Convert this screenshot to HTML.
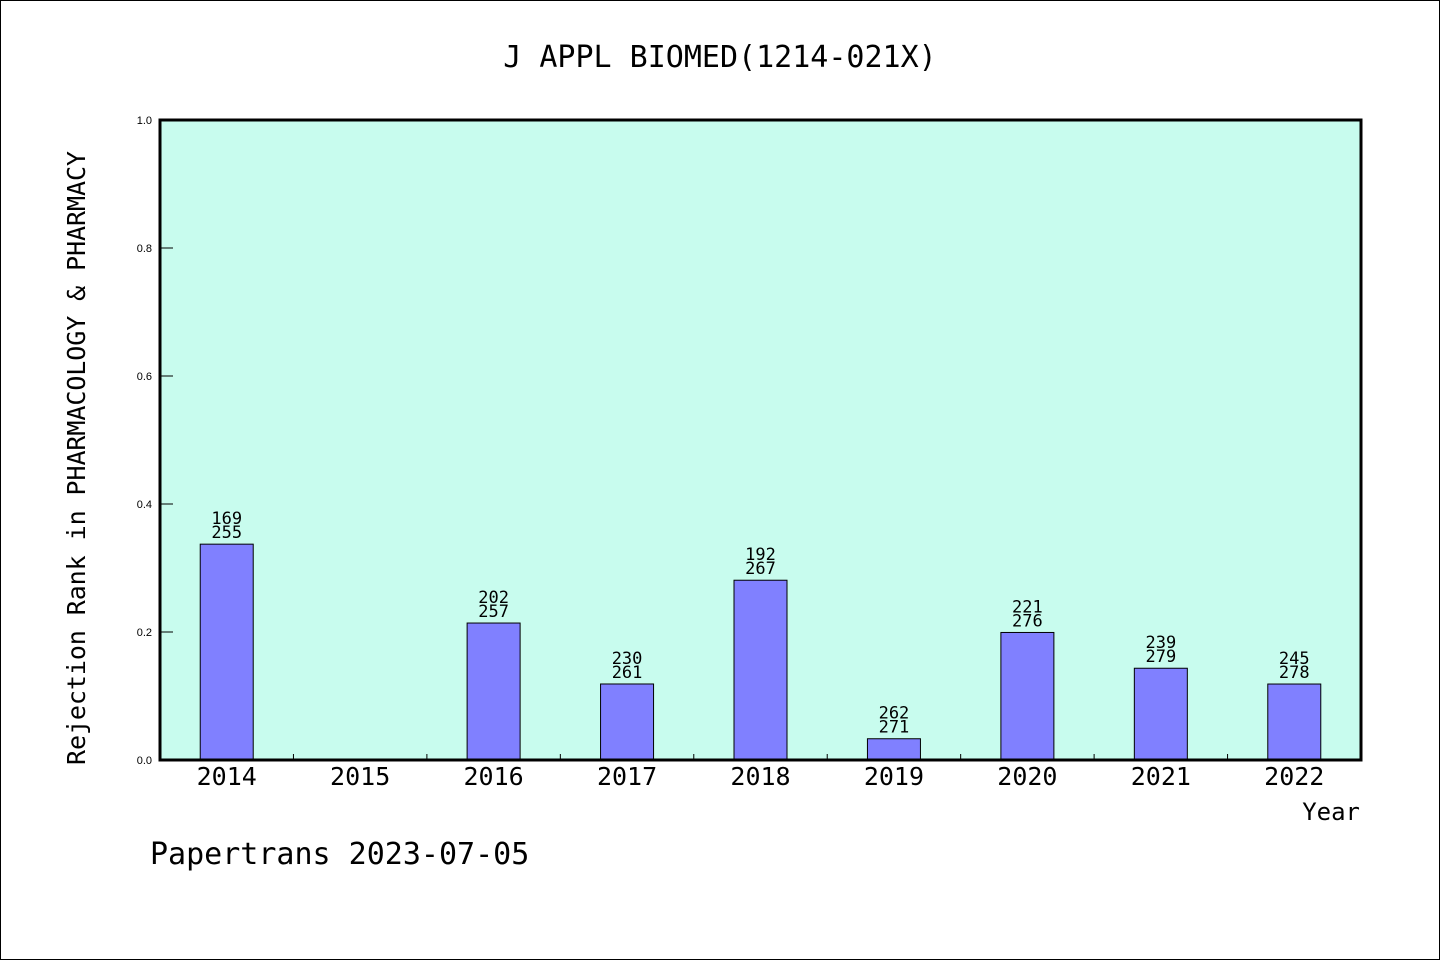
<!DOCTYPE html>
<html><head><meta charset="utf-8"><style>
html,body{margin:0;padding:0;background:#fff}
svg{display:block}
text{font-family:"WenQuanYi Zen Hei","DejaVu Sans Mono","Liberation Mono",monospace;fill:#000}
</style></head><body>
<svg id="chart" width="1440" height="960" viewBox="0 0 1440 960">
<rect x="0.5" y="0.5" width="1439" height="959" fill="#fff" stroke="#000" stroke-width="1"/>
<text x="720" y="67" font-size="30" text-anchor="middle">J APPL BIOMED(1214-021X)</text>
<rect x="160" y="120" width="1201" height="640" fill="#c8fcee"/>
<g id="bars"></g>
<g id="axes"></g>
<rect x="160" y="120" width="1201" height="640" fill="none" stroke="#000" stroke-width="3"/>
<text transform="translate(85,458) rotate(-90)" font-size="25" textLength="614" text-anchor="middle">Rejection Rank in PHARMACOLOGY &amp; PHARMACY</text>
<text x="1360" y="820" font-size="24" text-anchor="end">Year</text>
<text x="150" y="864" font-size="30">Papertrans 2023-07-05</text>
</svg>
<script>
const categories=["2014","2015","2016","2017","2018","2019","2020","2021","2022"];
const ranks=[169,null,202,230,192,262,221,239,245];
const totals=[255,null,257,261,267,271,276,279,278];
const yTicks=[0,0.2,0.4,0.6,0.8,1.0];
const NS="http://www.w3.org/2000/svg";
const X0=160,X1=1361,Y0=760,Y1=120;
const step=(X1-X0)/categories.length;
function xc(i){return X0+step*(i+0.5);}
function y(v){return Y0-(v)*(Y0-Y1);}
function mk(tag,attrs,parent){const e=document.createElementNS(NS,tag);for(const k in attrs)e.setAttribute(k,attrs[k]);parent.appendChild(e);return e;}
const bars=document.getElementById('bars'),axes=document.getElementById('axes');
const bw=53;
categories.forEach((c,i)=>{
  if(ranks[i]!=null){
    const v=1-ranks[i]/totals[i];
    const r=mk('rect',{x:xc(i)-bw/2,y:y(v),width:bw,height:Y0-y(v),fill:'#8080ff',stroke:'#000','stroke-width':1},bars);
    
    
    const t1=mk('text',{x:xc(i),y:y(v)-20,'font-size':17,'text-anchor':'middle'},bars);
    t1.textContent=ranks[i];
    
    
    const t2=mk('text',{x:xc(i),y:y(v)-6,'font-size':17,'text-anchor':'middle'},bars);
    t2.textContent=totals[i];
    
    
  }
  const tl=mk('text',{x:xc(i),y:785,'font-size':25,'text-anchor':'middle'},axes);
  tl.textContent=c;
  
  
  if(i>0){
    const tk=mk('line',{x1:X0+step*i,x2:X0+step*i,y1:Y0,y2:Y0-6,stroke:'#000','stroke-width':1},axes);
    
    
  }
});
yTicks.forEach(v=>{
  const tk=mk('line',{x1:X0,x2:X0+13,y1:y(v),y2:y(v),stroke:'#000','stroke-width':1},axes);
  
  
  const t=mk('text',{x:152,y:y(v)+4,'font-size':11,'text-anchor':'end','style':'font-family:"Liberation Sans",sans-serif'},axes);
  t.textContent=v.toFixed(1);
  
  
});
</script>
</body></html>
